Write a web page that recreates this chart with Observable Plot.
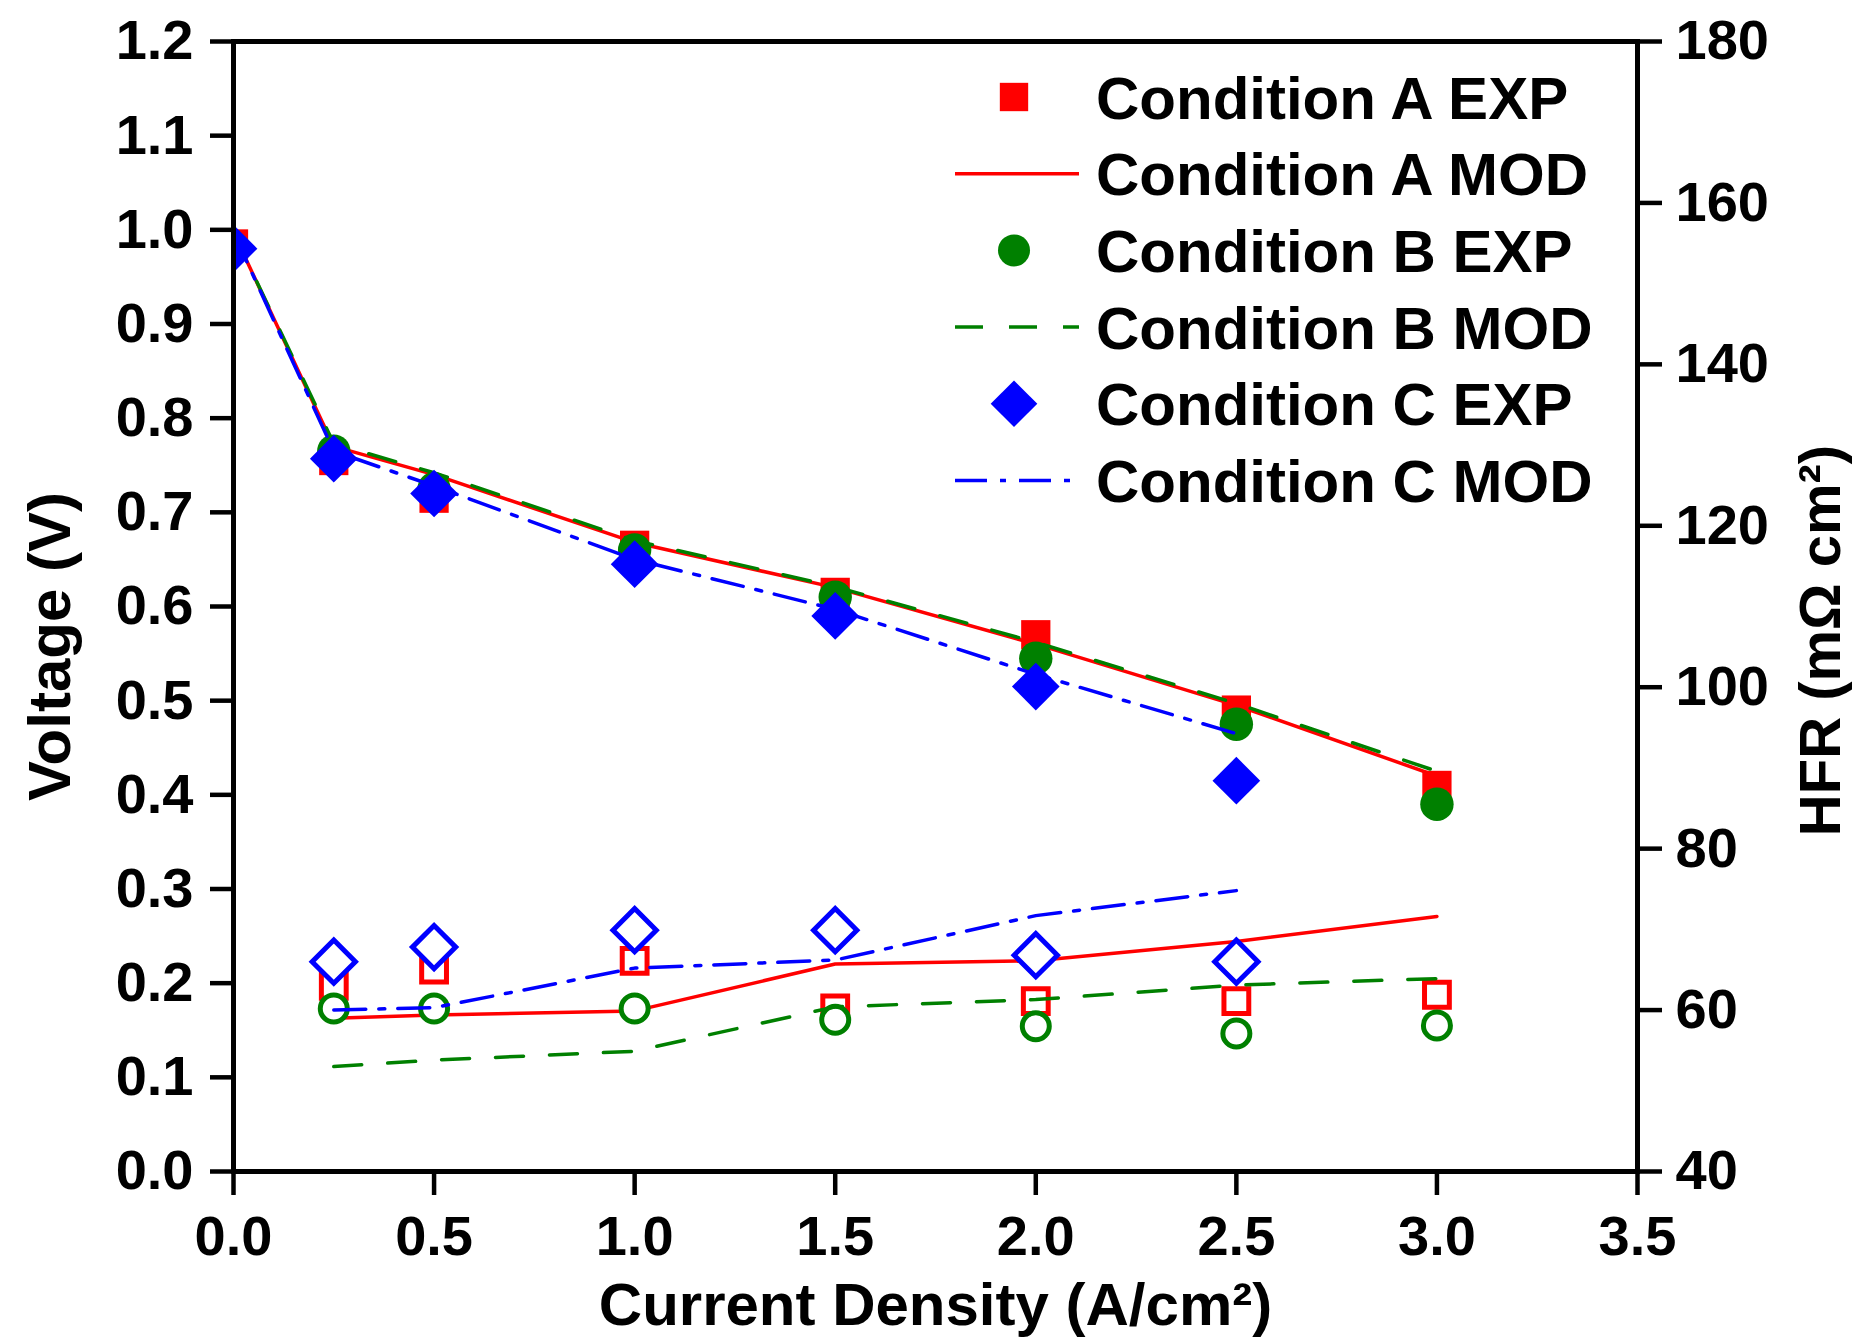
<!DOCTYPE html>
<html><head><meta charset="utf-8">
<script src="https://cdn.jsdelivr.net/npm/d3@7"></script>
<script src="https://cdn.jsdelivr.net/npm/@observablehq/plot@0.6"></script>
<style>
html,body{margin:0;padding:0;background:#fff;}
</style></head><body><div id="chart"></div>
<script>
// ---- data ----
const currentDensity = [0, 0.25, 0.5, 1.0, 1.5, 2.0, 2.5, 3.0];
const currentDensityC = [0, 0.25, 0.5, 1.0, 1.5, 2.0, 2.5];
const hfrCurrent = [0.25, 0.5, 1.0, 1.5, 2.0, 2.5, 3.0];
const hfrCurrentC = [0.25, 0.5, 1.0, 1.5, 2.0, 2.5];

const voltAExp = [0.985, 0.755, 0.715, 0.665, 0.615, 0.57, 0.49, 0.41];
const voltBExp = [0.98, 0.765, 0.725, 0.66, 0.61, 0.545, 0.475, 0.39];
const voltCExp = [0.98, 0.757, 0.72, 0.645, 0.59, 0.515, 0.415];
const voltAMod = [0.997, 0.77, 0.74, 0.668, 0.62, 0.56, 0.495, 0.42];
const voltBMod = [0.997, 0.773, 0.742, 0.67, 0.621, 0.562, 0.497, 0.425];
const voltCMod = [0.997, 0.765, 0.728, 0.65, 0.597, 0.528, 0.465];

const hfrAExp = [63.0, 65.0, 66.1, 60.2, 61.1, 61.1, 61.9];
const hfrBExp = [60.2, 60.2, 60.2, 58.8, 58.0, 57.1, 58.1];
const hfrCExp = [66.0, 67.8, 69.9, 69.9, 66.8, 66.0];
const hfrAMod = [59.0, 59.4, 59.9, 65.7, 66.1, 68.5, 71.6];
const hfrBMod = [53.0, 53.8, 54.9, 60.4, 61.3, 63.1, 63.9];
const hfrCMod = [60.0, 60.3, 65.2, 66.2, 71.7, 74.8];

const xTicks = [0, 0.5, 1.0, 1.5, 2.0, 2.5, 3.0, 3.5];
const voltTicks = [0, 0.1, 0.2, 0.3, 0.4, 0.5, 0.6, 0.7, 0.8, 0.9, 1.0, 1.1, 1.2];
const hfrTicks = [40, 60, 80, 100, 120, 140, 160, 180];

// HFR axis (40..180) shares the frame with the voltage axis (0..1.2)
const hfrMin = 40, hfrMax = 180, voltMax = 1.2;
const hfrToV = h => (h - hfrMin) / (hfrMax - hfrMin) * voltMax;
const vToHfr = v => hfrMin + v / voltMax * (hfrMax - hfrMin);

const rows = (xs, ys) => ys.map((y, i) => ({x: xs[i], y}));
const hrows = (xs, hs) => hs.map((h, i) => ({x: xs[i], y: hfrToV(h)}));

const RED = "#ff0000", GREEN = "#008000", BLUE = "#0000ff";
const FONT = "'Liberation Sans', Arial, Helvetica, sans-serif";
const DASH_B = "28,26";
const DASH_C = "32,13,6,13";
const LW = 3.5;

const plot = Plot.plot({
  width: 1860,
  height: 1338,
  marginLeft: 233,
  marginRight: 223,
  marginTop: 41,
  marginBottom: 167,
  style: {fontFamily: FONT, fontWeight: "bold", background: "white", color: "black"},
  x: {domain: [0, 3.5]},
  y: {domain: [0, 1.2]},
  marks: [
    // HFR layer (open symbols, lower curves)
    Plot.dot(hrows(hfrCurrent, hfrAExp), {x: "x", y: "y", symbol: "square", r: 14, stroke: RED, strokeWidth: 5, fill: "white", clip: true}),
    Plot.line(hrows(hfrCurrent, hfrAMod), {x: "x", y: "y", stroke: RED, strokeWidth: LW, clip: true}),
    Plot.dot(hrows(hfrCurrent, hfrBExp), {x: "x", y: "y", symbol: "circle", r: 13.5, stroke: GREEN, strokeWidth: 5, fill: "white", clip: true}),
    Plot.line(hrows(hfrCurrent, hfrBMod), {x: "x", y: "y", stroke: GREEN, strokeWidth: LW, strokeDasharray: DASH_B, clip: true}),
    Plot.dot(hrows(hfrCurrentC, hfrCExp), {x: "x", y: "y", symbol: "diamond2", r: 19.5, stroke: BLUE, strokeWidth: 5, fill: "white", clip: true}),
    Plot.line(hrows(hfrCurrentC, hfrCMod), {x: "x", y: "y", stroke: BLUE, strokeWidth: LW, strokeDasharray: DASH_C, clip: true}),
    // Voltage layer (filled symbols)
    Plot.dot(rows(currentDensity, voltAExp), {x: "x", y: "y", symbol: "square", r: 16.5, fill: RED, clip: true}),
    Plot.line(rows(currentDensity, voltAMod), {x: "x", y: "y", stroke: RED, strokeWidth: LW, clip: true}),
    Plot.dot(rows(currentDensity, voltBExp), {x: "x", y: "y", symbol: "circle", r: 16.7, fill: GREEN, clip: true}),
    Plot.line(rows(currentDensity, voltBMod), {x: "x", y: "y", stroke: GREEN, strokeWidth: LW, strokeDasharray: DASH_B, clip: true}),
    Plot.dot(rows(currentDensityC, voltCExp), {x: "x", y: "y", symbol: "diamond2", r: 21.5, fill: BLUE, clip: true}),
    Plot.line(rows(currentDensityC, voltCMod), {x: "x", y: "y", stroke: BLUE, strokeWidth: LW, strokeDasharray: DASH_C, clip: true}),
    // frame and axes
    Plot.frame({stroke: "black", strokeWidth: 5}),
    Plot.axisX({ticks: xTicks, tickFormat: d3.format(".1f"), tickSize: 24, tickPadding: 20, strokeWidth: 4.5, fontSize: 56, fontWeight: "bold", label: null}),
    Plot.axisY({anchor: "left", ticks: voltTicks, tickFormat: d3.format(".1f"), tickSize: 23, tickPadding: 17, strokeWidth: 4.5, fontSize: 56, fontWeight: "bold", label: null}),
    Plot.axisY({anchor: "right", ticks: hfrTicks.map(hfrToV), tickFormat: v => String(Math.round(vToHfr(v))), tickSize: 24, tickPadding: 14, strokeWidth: 4.5, fontSize: 56, fontWeight: "bold", label: null}),
    // axis titles
    Plot.text(["Current Density (A/cm\u00B2)"], {frameAnchor: "bottom", dy: 134, textAnchor: "middle", lineAnchor: "middle", fontSize: 60, fontWeight: "bold"}),
    Plot.text(["Voltage (V)"], {frameAnchor: "left", dx: -183, dy: 40, rotate: -90, textAnchor: "middle", lineAnchor: "middle", fontSize: 60, fontWeight: "bold"}),
    Plot.text(["HFR (m\u03A9 cm\u00B2)"], {frameAnchor: "right", dx: 184, dy: 34, rotate: -90, textAnchor: "middle", lineAnchor: "middle", fontSize: 58, fontWeight: "bold"})
  ]
});
document.getElementById("chart").appendChild(plot);

// ---- legend (inside the plot area, top right) ----
const legendItems = [
  {label: "Condition A EXP", kind: "dot", symbol: d3.symbolSquare, r: 16, color: RED},
  {label: "Condition A MOD", kind: "line", color: RED, dash: null},
  {label: "Condition B EXP", kind: "dot", symbol: d3.symbolCircle, r: 16, color: GREEN},
  {label: "Condition B MOD", kind: "line", color: GREEN, dash: DASH_B},
  {label: "Condition C EXP", kind: "dot", symbol: d3.symbolDiamond2, r: 21, color: BLUE},
  {label: "Condition C MOD", kind: "line", color: BLUE, dash: DASH_C}
];
const L = {x0: 955, x1: 1079, mx: 1014, tx: 1096, y0: 97, dy: 76.7};
const svg = d3.select(plot);
const lg = svg.append("g").attr("class", "legend").attr("text-anchor", "start");
legendItems.forEach((it, i) => {
  const y = L.y0 + i * L.dy;
  if (it.kind === "dot") {
    lg.append("path")
      .attr("d", d3.symbol(it.symbol, Math.PI * it.r * it.r)())
      .attr("transform", `translate(${L.mx},${y})`)
      .attr("fill", it.color);
  } else {
    lg.append("line")
      .attr("x1", L.x0).attr("x2", L.x1).attr("y1", y).attr("y2", y)
      .attr("stroke", it.color).attr("stroke-width", LW)
      .attr("stroke-dasharray", it.dash);
  }
  lg.append("text")
    .attr("x", L.tx).attr("y", y)
    .attr("dy", "0.36em")
    .attr("text-anchor", "start")
    .attr("font-family", FONT).attr("font-weight", "bold").attr("font-size", 60)
    .attr("fill", "black")
    .text(it.label);
});
</script>
</body></html>
